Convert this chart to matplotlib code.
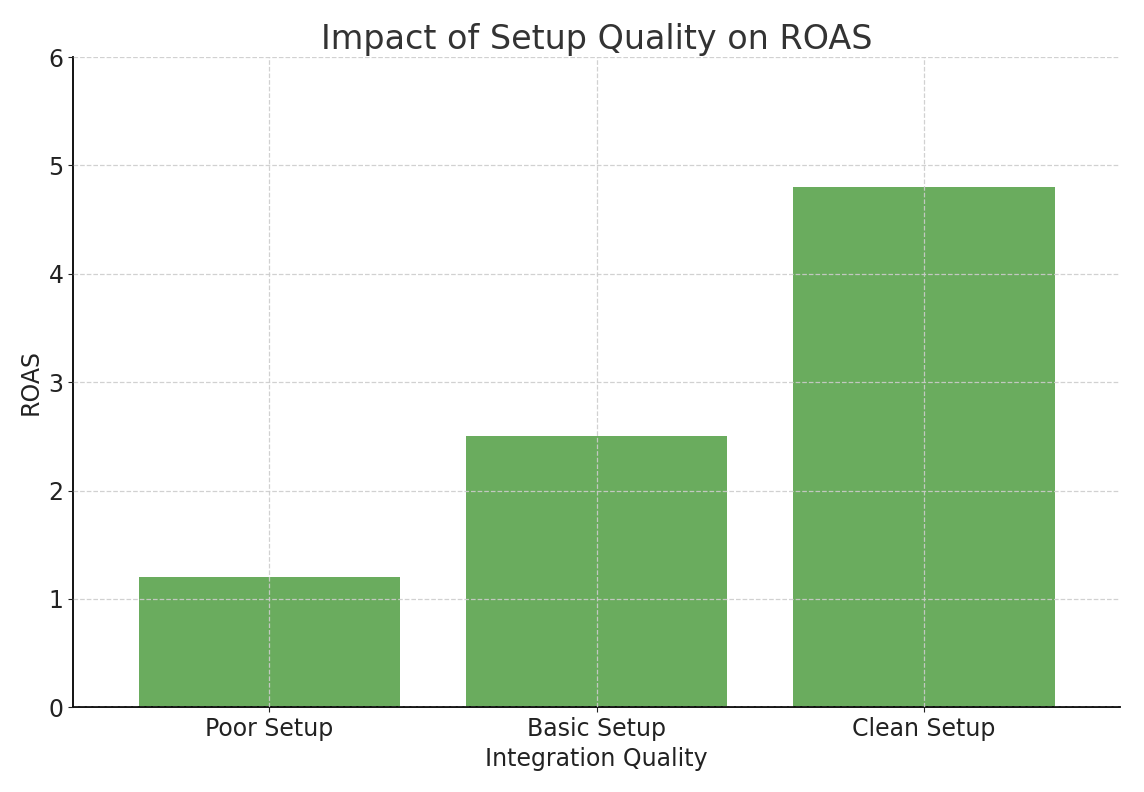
import matplotlib
matplotlib.use("Agg")
import matplotlib.pyplot as plt

categories = ["Poor Setup", "Basic Setup", "Clean Setup"]
roas = [1.2, 2.5, 4.8]

fig = plt.figure(figsize=(11.44, 7.92), dpi=100)
ax = fig.add_axes([0.064, 0.107, 0.915, 0.821])
ax.bar(categories, roas, color="#6aac5e", width=0.8, zorder=2)
ax.set_axisbelow(False)
ax.grid(True, linestyle="--", color="#cccccc", linewidth=0.9, alpha=0.9, zorder=3)
ax.set_ylim(0, 6)
ax.set_xlim(-0.6, 2.6)
ax.spines["top"].set_visible(False)
ax.spines["right"].set_visible(False)
ax.spines["left"].set_linewidth(1.3)
ax.spines["bottom"].set_linewidth(1.3)
ax.tick_params(labelsize=17, colors="#222222")
ax.set_title("Impact of Setup Quality on ROAS", fontsize=24, color="#333333")
ax.set_xlabel("Integration Quality", fontsize=17, color="#222222")
ax.set_ylabel("ROAS", fontsize=17, color="#222222")
fig.savefig("out.png", dpi=100)
